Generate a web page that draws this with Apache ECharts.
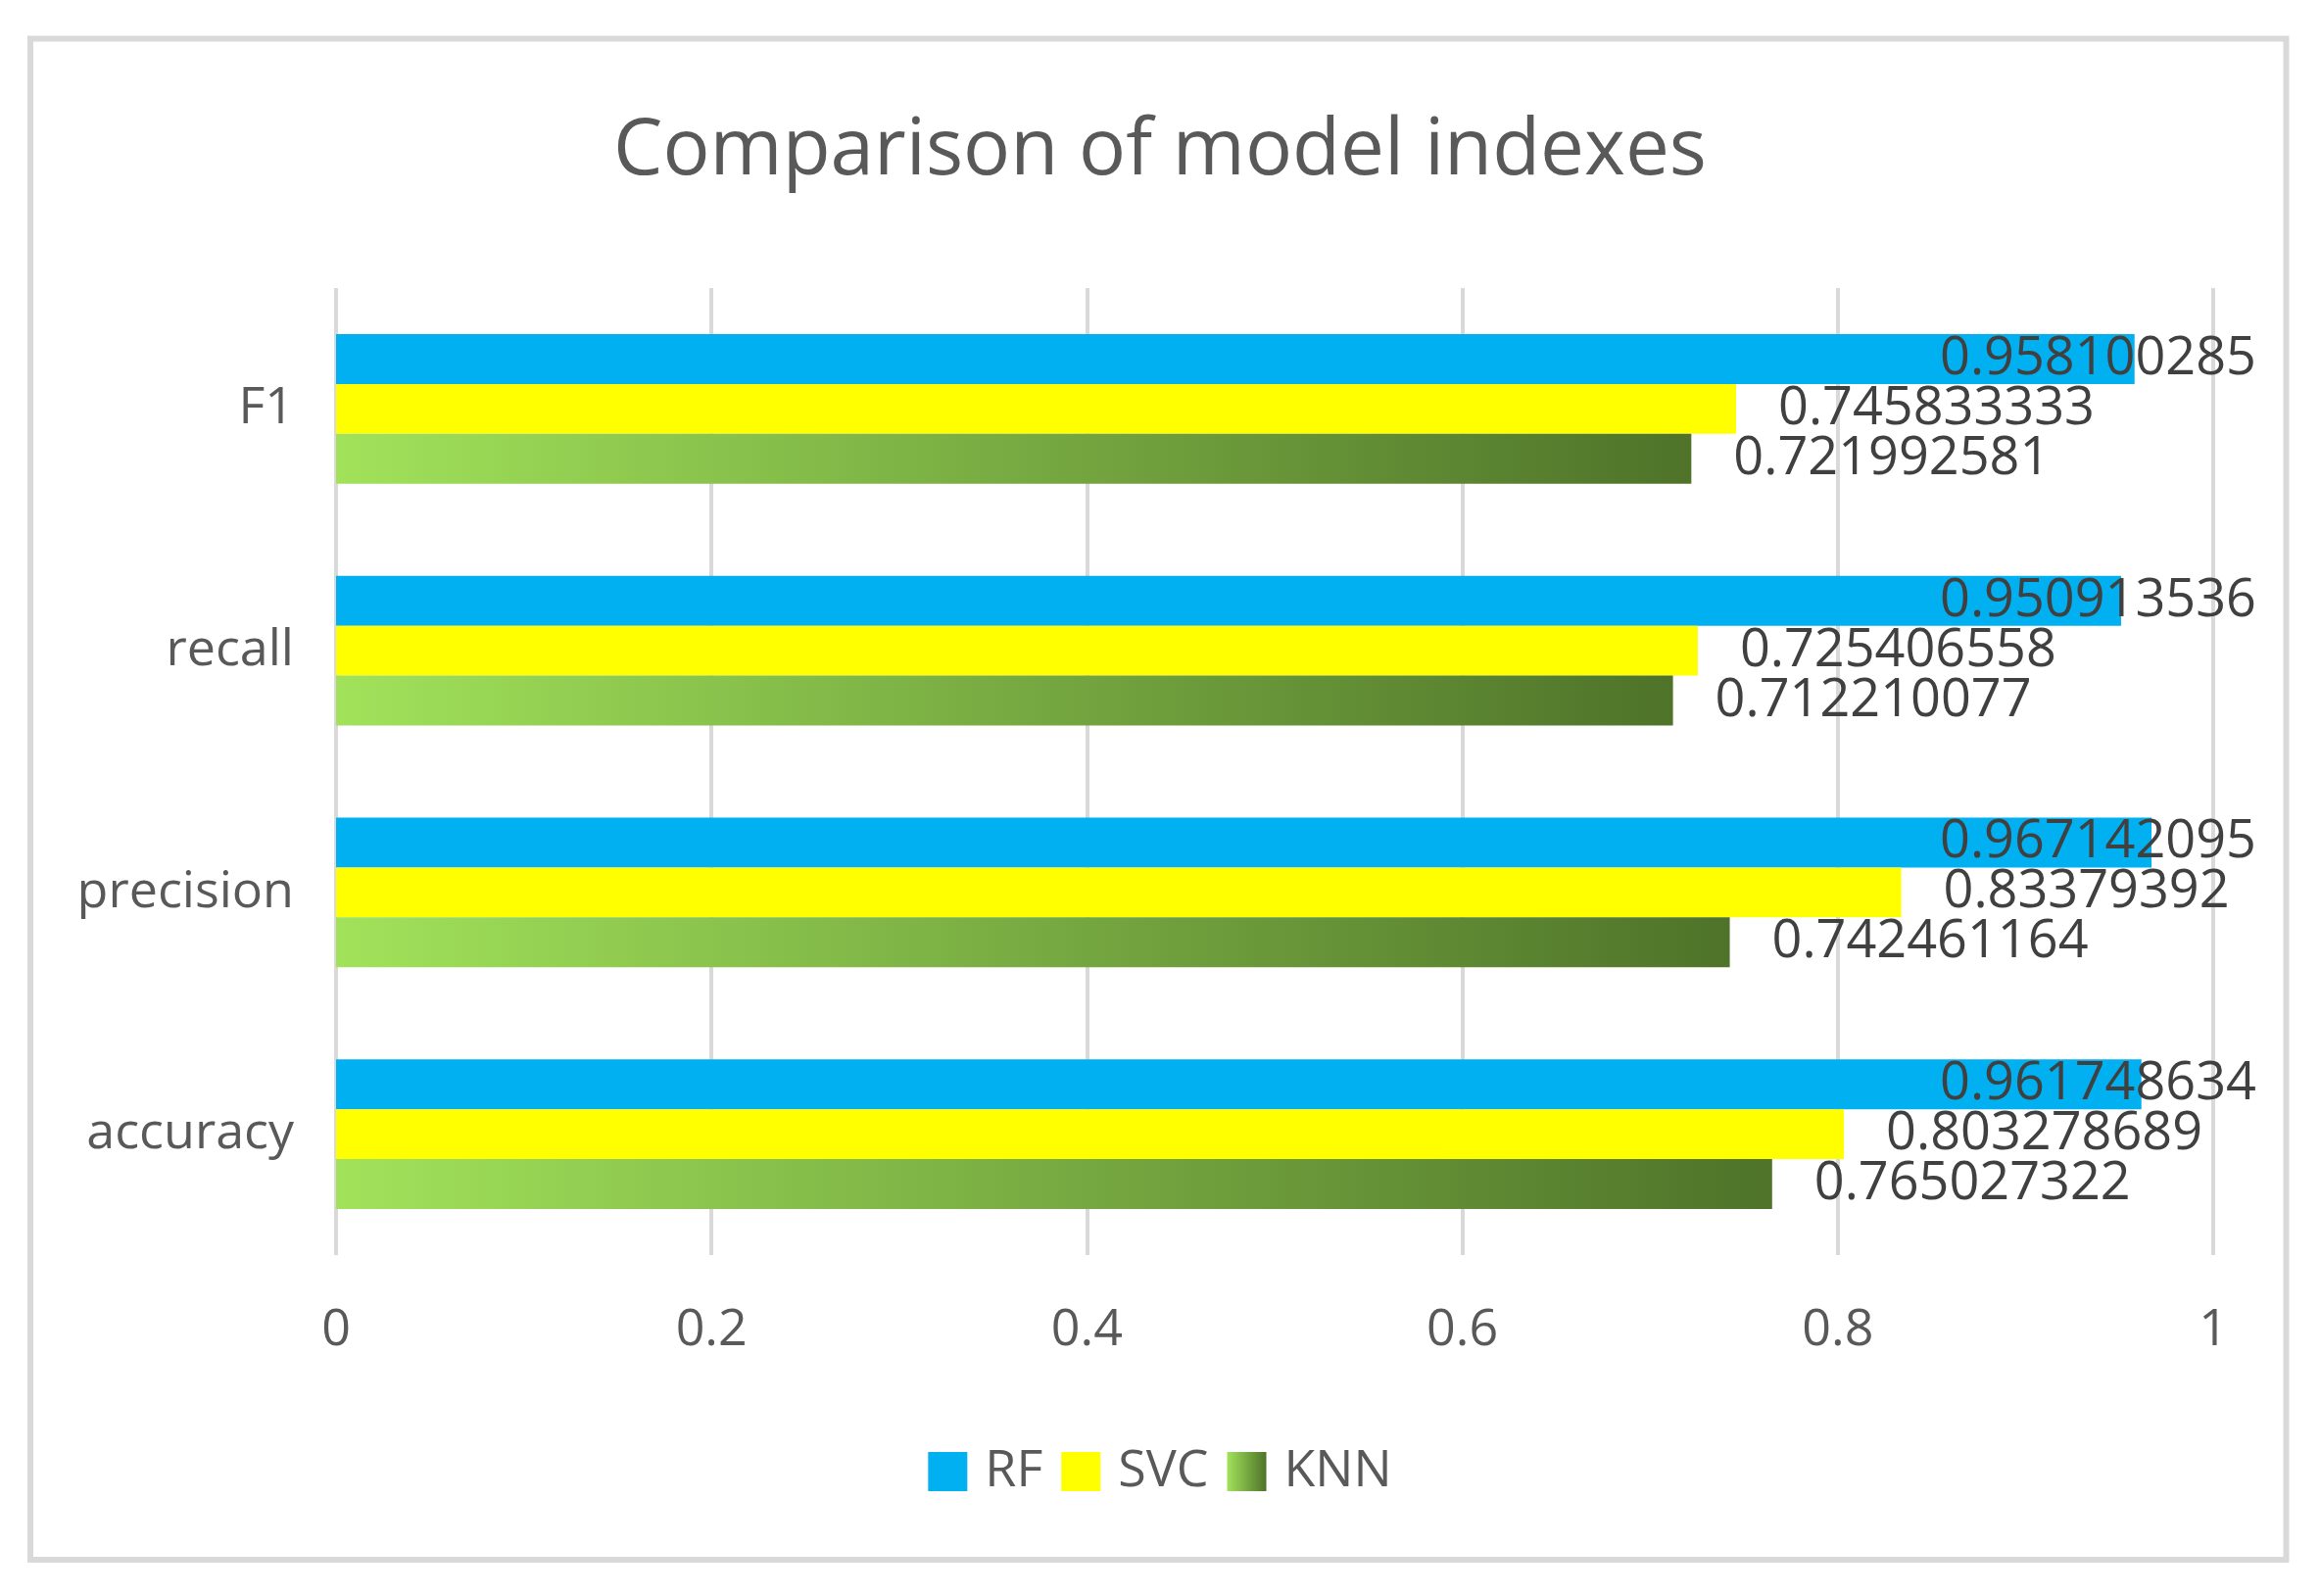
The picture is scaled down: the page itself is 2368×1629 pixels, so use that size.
<!DOCTYPE html>
<html>
<head>
<meta charset="utf-8">
<script src="https://cdn.jsdelivr.net/npm/echarts@6/dist/echarts.min.js"></script>
<style>
html,body{margin:0;padding:0;background:#fff;}
#chart{width:2368px;height:1629px;}
</style>
</head>
<body>
<div id="chart"></div>
<script>
const categories = ['F1', 'recall', 'precision', 'accuracy'];
const seriesNames = ['RF', 'SVC', 'KNN'];
const rfValues = [0.958100285, 0.950913536, 0.967142095, 0.961748634];
const svcValues = [0.745833333, 0.725406558, 0.83379392, 0.803278689];
const knnValues = [0.721992581, 0.712210077, 0.742461164, 0.765027322];
const xTicks = [0, 0.2, 0.4, 0.6, 0.8, 1];

const chart = echarts.init(document.getElementById('chart'));
const FONT = '"Open Sans", "Noto Sans", sans-serif';
const knnGradient = new echarts.graphic.LinearGradient(0, 0, 1, 0, [
  { offset: 0, color: '#a1e25a' },
  { offset: 1, color: '#4e7329' }
]);

const labelBase = {
  show: true,
  position: 'right',
  distance: 43,
  color: '#404040',
  fontFamily: FONT,
  fontSize: 54,
  formatter: p => String(p.value)
};

chart.setOption({
  backgroundColor: '#ffffff',
  animation: false,
  title: {
    text: 'Comparison of model indexes',
    left: 'center',
    top: 110,
    textStyle: { color: '#595959', fontFamily: FONT, fontSize: 80, fontWeight: 'normal' }
  },
  legend: {
    data: seriesNames,
    left: 'center',
    top: 1471,
    itemWidth: 40,
    itemHeight: 40,
    itemGap: 19,
    icon: 'rect',
    textStyle: { color: '#595959', fontFamily: FONT, fontSize: 52, padding: [0, 0, 0, 13] }
  },
  graphic: [{
    type: 'rect',
    shape: { x: 31, y: 39.5, width: 2302.5, height: 1552.5 },
    style: { fill: 'none', stroke: '#d9d9d9', lineWidth: 6 },
    silent: true
  }],
  grid: { left: 343, right: 109, top: 294, bottom: 348 },
  xAxis: {
    type: 'value',
    min: xTicks[0],
    max: xTicks[xTicks.length - 1],
    interval: 0.2,
    axisLine: { show: false },
    axisTick: { show: false },
    axisLabel: {
      color: '#595959', fontFamily: FONT, fontSize: 52, margin: 51,
      formatter: v => String(Math.round(v * 10) / 10)
    },
    splitLine: { show: true, lineStyle: { color: '#d9d9d9', width: 4 } }
  },
  yAxis: {
    type: 'category',
    data: categories,
    inverse: true,
    axisLine: { show: false },
    axisTick: { show: false },
    axisLabel: { color: '#595959', fontFamily: FONT, fontSize: 52, margin: 43 },
    splitLine: { show: false }
  },
  series: [
    {
      name: 'RF', type: 'bar', data: rfValues,
      barGap: '0%', barCategoryGap: '38%',
      itemStyle: { color: '#00b0f0' },
      label: labelBase,
      labelLayout: function (p) {
        return {
          x: chart.getWidth() - 65,
          y: p.rect.y + p.rect.height / 2,
          align: 'right',
          verticalAlign: 'middle'
        };
      }
    },
    {
      name: 'SVC', type: 'bar', data: svcValues,
      barGap: '0%', barCategoryGap: '38%',
      itemStyle: { color: '#ffff00' },
      label: labelBase
    },
    {
      name: 'KNN', type: 'bar', data: knnValues,
      barGap: '0%', barCategoryGap: '38%',
      itemStyle: { color: knnGradient },
      label: labelBase
    }
  ]
});
</script>
</body>
</html>
